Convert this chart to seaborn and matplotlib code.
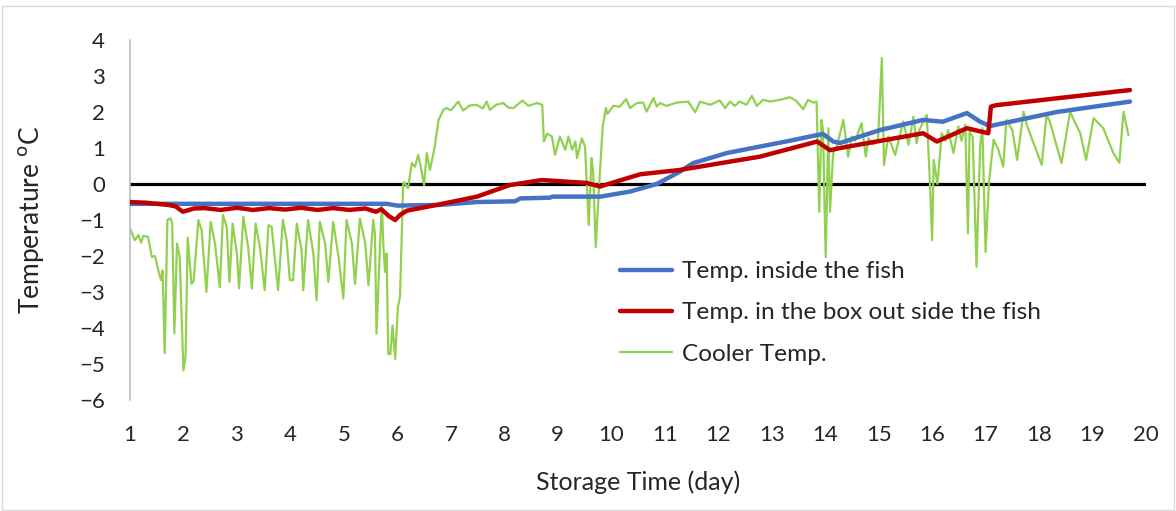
import matplotlib
matplotlib.use('Agg')
import matplotlib.pyplot as plt
from matplotlib.patches import Rectangle
import seaborn as sns

# readings taken off the chart (day, temperature in C)
fish_day = [1.0, 5.8, 6.0, 6.8, 7.5, 8.2, 8.3, 8.85, 8.9, 9.8, 10.35, 10.85, 11.28,
            11.53, 12.16, 12.78, 13.4, 13.85, 13.96, 14.15, 14.28, 15.03, 15.83,
            16.2, 16.65, 16.9, 17.08, 18.33, 19.7]
fish_temp = [-0.55, -0.55, -0.6, -0.58, -0.5, -0.48, -0.4, -0.38, -0.35, -0.35, -0.21,
             0.0, 0.34, 0.58, 0.86, 1.04, 1.22, 1.36, 1.39, 1.18, 1.14, 1.5, 1.78,
             1.73, 1.97, 1.73, 1.61, 2.0, 2.29]

box_day = [1.0, 1.3, 1.71, 1.85, 1.99, 2.2, 2.4, 2.7, 3.0, 3.3, 3.6, 3.9, 4.2, 4.5,
           4.8, 5.1, 5.4, 5.6, 5.7, 5.85, 5.96, 6.05, 6.18, 6.74, 7.49, 8.1, 8.7,
           9.54, 9.79, 10.54, 11.28, 12.78, 13.85, 14.09, 14.28, 15.83, 16.09,
           16.65, 17.05, 17.1, 17.2, 19.7]
box_temp = [-0.5, -0.52, -0.58, -0.62, -0.77, -0.68, -0.67, -0.72, -0.66, -0.72,
            -0.67, -0.71, -0.66, -0.72, -0.67, -0.72, -0.68, -0.77, -0.7, -0.9,
            -1.0, -0.86, -0.74, -0.58, -0.35, -0.03, 0.11, 0.03, -0.07, 0.27,
            0.39, 0.76, 1.18, 0.94, 1.0, 1.41, 1.18, 1.55, 1.41, 2.15, 2.19, 2.61]

cooler_day = [1.0, 1.09, 1.16, 1.21, 1.25, 1.34, 1.41, 1.47, 1.53, 1.58, 1.61, 1.65,
              1.70, 1.76, 1.79, 1.83, 1.88, 1.93, 2.0, 2.04, 2.08, 2.15, 2.19, 2.28,
              2.34, 2.43, 2.51, 2.59, 2.68, 2.74, 2.81, 2.86, 2.92, 3.0, 3.04, 3.12,
              3.21, 3.28, 3.35, 3.43, 3.52, 3.59, 3.65, 3.77, 3.86, 3.93, 3.99, 4.05,
              4.12, 4.21, 4.24, 4.33, 4.43, 4.49, 4.55, 4.65, 4.71, 4.80, 4.9, 4.99,
              5.05, 5.15, 5.21, 5.30, 5.40, 5.46, 5.55, 5.58, 5.61, 5.66, 5.71, 5.74,
              5.77, 5.80, 5.83, 5.87, 5.91, 5.96, 6.01, 6.05, 6.11, 6.13, 6.20, 6.27,
              6.33, 6.39, 6.45, 6.50, 6.55, 6.61, 6.70, 6.77, 6.86, 6.92, 7.0, 7.14,
              7.23, 7.35, 7.48, 7.6, 7.67, 7.73, 7.85, 7.98, 8.08, 8.17, 8.34, 8.45,
              8.61, 8.71, 8.74, 8.80, 8.89, 8.95, 9.04, 9.14, 9.20, 9.27, 9.33, 9.36,
              9.45, 9.51, 9.58, 9.63, 9.66, 9.71, 9.78, 9.84, 9.90, 9.93, 10.04,
              10.16, 10.28, 10.35, 10.48, 10.6, 10.66, 10.79, 10.85, 10.91, 11.03,
              11.22, 11.44, 11.57, 11.66, 11.85, 12.03, 12.13, 12.22, 12.31, 12.4,
              12.53, 12.63, 12.72, 12.84, 12.97, 13.16, 13.34, 13.46, 13.59, 13.68,
              13.78, 13.84, 13.89, 13.93, 13.96, 14.01, 14.06, 14.09, 14.15, 14.21,
              14.34, 14.43, 14.5, 14.56, 14.68, 14.76, 14.81, 14.9, 14.99, 15.06,
              15.1, 15.18, 15.31, 15.46, 15.56, 15.65, 15.71, 15.76, 15.9, 15.96,
              16.0, 16.03, 16.1, 16.18, 16.25, 16.3, 16.4, 16.49, 16.55, 16.62,
              16.67, 16.7, 16.76, 16.83, 16.9, 16.94, 17.0, 17.06, 17.15, 17.24,
              17.33, 17.39, 17.5, 17.59, 17.71, 17.78, 18.05, 18.14, 18.2, 18.42,
              18.58, 18.65, 18.77, 18.88, 19.02, 19.2, 19.39, 19.5, 19.58, 19.67]
cooler_temp = [-1.23, -1.56, -1.42, -1.63, -1.44, -1.47, -2.03, -2.0, -2.4, -2.67,
               -2.4, -4.7, -1.0, -0.95, -1.1, -4.15, -1.65, -2.02, -5.18, -4.8,
               -1.49, -2.77, -2.7, -1.0, -1.28, -3.0, -1.05, -1.65, -2.86, -0.86,
               -1.19, -2.72, -1.1, -1.93, -2.9, -0.91, -1.75, -2.9, -1.1, -1.75,
               -2.95, -1.14, -1.19, -2.95, -1.0, -1.56, -2.67, -2.67, -1.1, -1.84,
               -2.95, -1.0, -1.93, -3.23, -1.05, -1.65, -2.72, -1.05, -2.02, -3.18,
               -1.0, -1.65, -2.77, -0.96, -1.65, -2.81, -1.0, -1.37, -4.16, -2.3,
               -0.54, -1.75, -2.44, -1.93, -4.72, -4.72, -3.93, -4.86, -3.42, -3.14,
               0.02, 0.05, -0.12, 0.58, 0.48, 0.81, 0.39, -0.03, 0.86, 0.39, 1.04,
               1.78, 2.06, 2.11, 2.05, 2.29, 2.04, 2.18, 2.2, 2.1, 2.29, 2.06, 2.2,
               2.25, 2.12, 2.11, 2.32, 2.17, 2.25, 2.2, 1.18, 1.4, 1.32, 0.81, 1.32,
               0.95, 1.32, 0.95, 1.18, 0.72, 1.27, 1.04, -1.14, 0.72, 0.39, -1.75,
               0.11, 1.6, 2.11, 1.95, 2.17, 2.15, 2.36, 2.11, 2.25, 2.26, 2.01, 2.39,
               2.15, 2.25, 2.17, 2.26, 2.29, 1.99, 2.29, 2.2, 2.32, 2.11, 2.29, 2.17,
               2.29, 2.2, 2.45, 2.17, 2.34, 2.29, 2.34, 2.41, 2.31, 2.08, 2.34, 2.26,
               2.29, -0.77, 1.78, 1.5, -2.03, 1.55, -0.77, 0.86, 1.0, 1.78, 0.76,
               1.32, 1.2, 1.69, 0.76, 1.27, 1.1, 1.25, 3.5, 0.53, 1.32, 0.81, 1.74,
               1.09, 1.87, 1.13, 1.5, 1.92, 0.02, -1.56, 0.67, 0.0, 1.41, 1.2, 1.5,
               0.86, 1.6, 1.2, 1.64, -1.37, 1.45, 1.3, -2.3, 1.1, 1.55, -1.89, 0.0,
               1.23, 0.95, 0.48, 1.78, 1.5, 0.67, 2.01, 1.6, 0.53, 1.92, 1.74, 0.58,
               2.01, 1.78, 1.41, 0.67, 1.83, 1.55, 0.86, 0.59, 2.01, 1.36]

sns.set_style('white')
plt.rcParams['font.family'] = ['Lato', 'DejaVu Sans']

fig = plt.figure(figsize=(11.76, 5.11), dpi=100)
ax = fig.add_axes([0.1105, 0.2172, 0.864, 0.7045])

ax.axhline(0, color='black', lw=2.3, zorder=1)
sns.lineplot(x=cooler_day, y=cooler_temp, ax=ax, color='#92D050', lw=1.6,
             label='Cooler Temp.', sort=False, zorder=2)
sns.lineplot(x=fish_day, y=fish_temp, ax=ax, color='#4472C4', lw=3.2,
             label='Temp. inside the fish', sort=False, zorder=3)
sns.lineplot(x=box_day, y=box_temp, ax=ax, color='#C00000', lw=3.2,
             label='Temp. in the box out side the fish', sort=False, zorder=4)

ax.set_xlim(1, 20)
ax.set_ylim(-6, 4)
ax.set_xticks(range(1, 21))
ax.set_yticks(range(-6, 5))
ax.tick_params(axis='x', length=0, pad=18, labelsize=16)
ax.tick_params(axis='y', length=0, pad=18, labelsize=16)
for s in ['top', 'right', 'bottom']:
    ax.spines[s].set_visible(False)
ax.spines['left'].set_color('#bfbfbf')
ax.spines['left'].set_linewidth(1.2)

ax.set_xlabel('Storage Time (day)', fontsize=18, labelpad=18)
ax.set_ylabel('Temperature $^{\\mathrm{o}}$C', fontsize=19, labelpad=24)

# legend order as in the original
h, l = ax.get_legend_handles_labels()
order = [1, 2, 0]
ax.legend([h[i] for i in order], [l[i] for i in order], loc='upper left',
          bbox_to_anchor=(0.461, 0.447), frameon=False, fontsize=17.6,
          handlelength=2.13, labelspacing=0.82, handletextpad=0.4)

fig.patches.append(Rectangle((0.002, 0.002), 0.996, 0.986, transform=fig.transFigure,
                             fill=False, edgecolor='#d9d9d9', lw=1))

fig.savefig('out.png', dpi=100)
